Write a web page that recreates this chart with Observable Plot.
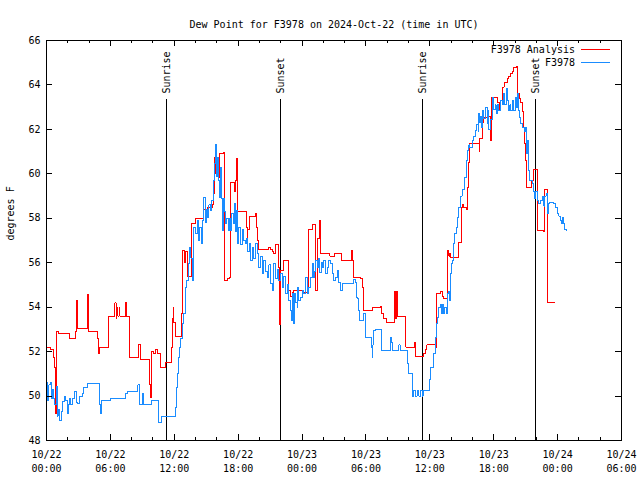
<!DOCTYPE html>
<html><head><meta charset="utf-8">
<script src="https://cdn.jsdelivr.net/npm/d3@7"></script>
<script src="https://cdn.jsdelivr.net/npm/@observablehq/plot@0.6"></script>
<style>body{margin:0;background:#fff}</style>
</head><body><div id="chart"></div>
<script>
const chartTitle = "Dew Point for F3978 on 2024-Oct-22 (time in UTC)";
const yLabel = "degrees F";
const seriesNames = ["F3978 Analysis", "F3978"];
const seriesColors = ["#ff0000", "#1a8cff"];
const xTickHours = [0, 6, 12, 18, 24, 30, 36, 42, 48, 54];
const xTickLabels = ["10/22\n00:00","10/22\n06:00","10/22\n12:00","10/22\n18:00","10/23\n00:00","10/23\n06:00","10/23\n12:00","10/23\n18:00","10/24\n00:00","10/24\n06:00"];
const xMinorHours = d3.range(0, 55, 2);
const yTicks = [48, 50, 52, 54, 56, 58, 60, 62, 64, 66];
const sunHours = [11.27, 21.98, 35.31, 45.95];
const sunLabels = ["Sunrise", "Sunset", "Sunrise", "Sunset"];

// [hours since 10/22 00:00 UTC, dew point F]
const analysisSeries = [[0.07,52.2],[0.38,52.1],[0.63,51.75],[0.75,51.3],[0.85,50.7],[0.89,49.2],[0.94,52.9],[1.16,52.8],[2.09,52.8],[2.16,52.6],[2.66,52.6],[2.72,52.9],[2.82,54.3],[2.91,53.05],[3.76,53.05],[3.82,54.57],[3.90,53.8],[3.97,52.9],[4.76,52.9],[4.82,52.6],[4.88,51.9],[4.98,52.2],[5.70,52.2],[5.79,53.6],[6.39,53.6],[6.43,54.2],[6.53,53.5],[6.62,54.0],[6.71,53.6],[6.81,54.0],[6.90,53.6],[7.33,53.6],[7.42,54.2],[7.51,53.6],[7.73,53.6],[7.80,51.75],[8.52,51.75],[8.64,52.3],[8.73,52.3],[8.83,51.65],[9.58,51.65],[9.70,50.5],[9.77,49.95],[9.86,52.0],[10.05,51.9],[10.28,52.1],[10.42,51.9],[10.71,51.3],[11.13,51.3],[11.18,51.5],[11.65,51.5],[11.74,52.2],[11.80,53.5],[11.90,54.0],[11.96,53.3],[12.11,52.7],[12.58,52.7],[12.68,53.7],[12.74,55.5],[12.80,56.55],[12.96,56.0],[13.05,56.5],[13.21,55.4],[13.52,55.4],[13.62,57.75],[13.99,57.97],[14.30,58.0],[14.62,58.0],[14.74,58.4],[15.09,58.5],[15.56,58.6],[15.66,59.1],[15.78,60.75],[15.87,60.0],[16.03,60.75],[16.18,59.85],[16.28,60.9],[16.65,60.95],[16.72,55.2],[16.97,55.3],[17.21,55.35],[17.28,59.6],[17.59,59.6],[17.66,59.2],[17.75,59.7],[17.84,60.7],[17.91,58.3],[18.69,58.3],[18.78,57.6],[18.85,56.8],[18.92,57.5],[19.09,58.1],[19.63,58.2],[19.72,57.6],[19.79,57.0],[19.94,56.6],[20.57,56.6],[20.88,56.7],[21.04,56.6],[21.20,56.5],[21.35,56.4],[21.51,56.8],[21.74,56.8],[21.82,55.8],[21.88,53.2],[21.95,55.65],[22.23,56.1],[22.61,56.1],[22.70,55.7],[22.76,54.75],[22.92,54.5],[23.07,54.65],[23.23,54.75],[24.01,54.75],[24.17,54.65],[24.48,54.75],[24.65,57.5],[24.95,57.7],[25.20,57.7],[25.26,54.75],[25.42,57.1],[25.55,57.1],[25.67,57.9],[25.73,56.4],[26.51,56.4],[26.61,56.3],[26.98,56.3],[27.08,56.4],[27.61,56.4],[27.70,56.1],[28.55,56.1],[28.62,56.55],[28.71,56.1],[28.80,55.35],[29.49,55.3],[29.65,54.9],[29.74,53.85],[30.43,53.85],[30.59,54.0],[31.37,54.05],[31.46,53.7],[31.68,53.5],[31.93,53.3],[32.62,53.3],[32.68,54.7],[32.78,53.5],[32.87,54.7],[32.94,53.6],[33.71,53.6],[33.76,52.2],[34.49,52.2],[34.56,52.4],[34.66,51.8],[35.28,51.8],[35.43,51.9],[35.59,52.1],[35.73,52.3],[36.53,52.3],[36.60,52.2],[36.66,54.6],[36.84,54.6],[37.00,54.7],[37.16,54.5],[37.31,54.4],[37.57,54.4],[37.63,56.4],[37.69,56.55],[37.78,56.3],[37.85,56.4],[37.94,56.25],[38.57,56.25],[38.72,56.9],[38.88,56.9],[38.95,58.5],[39.04,58.6],[39.16,58.5],[39.44,58.4],[39.51,59.4],[39.66,60.5],[39.75,61.35],[40.52,61.35],[40.62,61.0],[40.69,61.6],[40.85,61.6],[40.97,62.3],[41.07,62.55],[41.54,62.6],[41.70,61.5],[41.79,63.45],[42.33,63.4],[42.40,63.2],[42.57,62.9],[42.68,63.3],[42.80,63.9],[42.97,64.1],[43.27,64.3],[43.42,64.4],[43.58,64.5],[43.74,64.6],[43.89,64.8],[44.14,64.85],[44.20,63.6],[44.45,63.4],[44.52,63.2],[44.67,62.8],[44.77,62.1],[44.89,61.35],[44.98,60.6],[45.08,59.4],[45.45,59.4],[45.55,59.7],[45.76,60.2],[46.05,60.2],[46.08,57.45],[46.70,57.4],[46.77,59.3],[47.02,59.3],[47.05,54.2],[47.75,54.2]];

const stationSeries = [[0.07,50.6],[0.12,49.8],[0.23,50.5],[0.38,50.6],[0.50,49.9],[0.61,50.3],[0.69,49.9],[0.75,49.6],[0.91,50.45],[1.00,49.1],[1.08,49.4],[1.22,48.9],[1.38,49.3],[1.53,49.75],[1.69,50.0],[1.78,49.8],[1.94,49.2],[2.02,49.6],[2.16,49.9],[2.30,49.6],[2.47,49.9],[2.63,50.2],[2.79,49.7],[2.94,49.65],[3.10,50.0],[3.41,50.1],[3.50,50.4],[3.88,50.55],[4.91,50.55],[5.01,49.6],[5.07,49.2],[5.17,49.8],[6.01,49.9],[7.26,49.9],[7.42,50.1],[7.58,50.2],[8.52,50.2],[8.57,50.5],[8.76,49.6],[8.99,50.1],[9.14,49.6],[9.77,49.6],[9.83,49.8],[10.40,49.8],[10.49,49.2],[10.55,48.8],[10.77,49.1],[12.05,49.1],[12.11,49.5],[12.21,50.4],[12.27,51.0],[12.37,51.75],[12.49,52.2],[12.58,52.6],[12.74,53.25],[12.89,53.7],[13.05,54.9],[13.15,55.2],[13.36,55.95],[13.46,56.7],[13.57,56.2],[13.68,55.2],[13.83,57.6],[13.99,57.3],[14.15,57.9],[14.27,57.0],[14.37,57.6],[14.53,56.85],[14.65,57.9],[14.77,58.95],[14.89,57.8],[15.03,58.4],[15.09,58.05],[15.24,58.6],[15.40,58.35],[15.54,58.8],[15.66,59.7],[15.78,60.45],[15.87,61.3],[15.97,59.9],[16.09,60.75],[16.18,59.7],[16.28,58.95],[16.34,60.3],[16.43,58.9],[16.50,57.45],[16.59,58.9],[16.72,58.3],[16.81,57.75],[16.93,58.0],[17.06,57.45],[17.17,58.0],[17.28,57.45],[17.37,58.2],[17.53,57.75],[17.66,58.65],[17.75,57.4],[17.84,58.35],[17.97,56.85],[18.06,57.6],[18.22,56.8],[18.38,57.5],[18.53,57.0],[18.69,56.85],[18.78,57.1],[18.91,56.5],[19.09,56.85],[19.16,56.1],[19.32,56.7],[19.47,56.2],[19.63,56.85],[19.79,56.4],[19.94,55.8],[20.10,56.3],[20.26,55.5],[20.41,56.1],[20.57,55.6],[20.73,55.35],[20.88,55.9],[21.04,55.05],[21.20,54.75],[21.35,55.95],[21.51,55.3],[21.67,55.7],[21.82,55.2],[21.98,55.5],[22.14,54.9],[22.29,55.4],[22.45,54.6],[22.61,55.0],[22.76,54.3],[22.92,53.85],[22.98,53.4],[23.07,54.6],[23.17,53.25],[23.29,54.6],[23.38,54.2],[23.54,54.0],[23.60,54.9],[23.69,54.3],[23.85,54.45],[24.01,54.75],[24.16,54.6],[24.32,55.35],[24.48,54.6],[24.63,54.9],[24.79,55.35],[24.95,55.95],[25.05,55.35],[25.17,55.6],[25.26,56.1],[25.42,55.8],[25.57,56.2],[25.67,55.55],[25.80,56.0],[25.89,55.8],[26.04,56.1],[26.20,55.5],[26.36,55.8],[26.51,56.1],[26.67,55.95],[26.83,55.5],[26.98,55.2],[27.14,55.35],[27.30,55.65],[27.45,55.1],[27.61,54.75],[27.77,55.05],[28.71,55.05],[28.80,55.25],[29.02,55.1],[29.11,54.45],[29.21,54.4],[29.33,53.85],[29.42,53.4],[29.65,53.4],[29.80,53.7],[29.96,52.65],[30.43,52.65],[30.49,52.2],[30.59,51.75],[30.66,52.3],[30.74,52.95],[30.90,53.0],[31.37,53.0],[31.43,52.05],[32.15,52.05],[32.31,52.65],[32.40,52.4],[32.47,52.05],[32.94,52.05],[33.09,52.3],[33.20,52.05],[33.71,52.05],[33.87,51.45],[33.97,51.0],[34.19,51.0],[34.34,50.0],[34.49,50.25],[34.65,50.0],[34.81,50.25],[34.97,50.0],[35.12,50.25],[35.28,50.0],[35.38,50.25],[36.00,50.75],[36.06,51.3],[36.32,51.3],[36.37,51.9],[36.53,52.65],[36.63,53.25],[36.69,53.55],[36.84,54.0],[37.00,54.1],[37.10,53.7],[37.19,54.1],[37.31,53.7],[37.41,54.0],[37.57,53.7],[37.69,54.6],[37.78,54.7],[37.88,54.3],[37.94,55.5],[38.04,55.95],[38.13,56.1],[38.25,56.85],[38.35,57.3],[38.50,57.6],[38.63,58.05],[38.72,58.5],[38.88,59.0],[39.04,59.3],[39.19,59.3],[39.28,59.85],[39.42,60.6],[39.51,61.05],[39.66,61.3],[39.75,61.2],[39.98,61.5],[40.13,61.7],[40.29,61.95],[40.38,62.2],[40.48,62.2],[40.54,61.9],[40.60,62.7],[40.69,62.3],[40.76,62.6],[40.85,62.1],[40.97,62.85],[41.07,62.5],[41.23,63.0],[41.39,62.25],[41.46,62.85],[41.54,62.0],[41.70,62.45],[41.86,63.45],[42.01,62.9],[42.17,63.1],[42.23,62.7],[42.33,63.1],[42.48,62.85],[42.64,63.3],[42.80,63.1],[42.95,63.6],[43.04,63.1],[43.17,63.85],[43.27,63.3],[43.42,62.85],[43.51,63.1],[43.58,62.85],[43.74,63.3],[43.89,62.85],[44.05,63.45],[44.14,63.0],[44.20,63.6],[44.30,62.85],[44.42,62.55],[44.52,62.25],[44.67,62.1],[44.83,62.1],[44.92,61.9],[44.98,62.1],[45.08,60.9],[45.14,61.5],[45.29,60.15],[45.39,59.7],[45.61,59.55],[45.76,59.2],[45.86,58.9],[45.92,59.2],[46.08,58.8],[46.23,58.65],[46.39,58.8],[46.55,59.0],[46.70,58.55],[46.80,59.0],[46.93,59.1],[47.02,58.65],[47.05,58.2],[47.14,58.65],[47.24,58.7],[47.47,58.7],[47.64,58.65],[47.80,58.5],[47.96,58.2],[48.11,58.1],[48.27,57.9],[48.36,57.75],[48.49,58.05],[48.58,57.75],[48.68,57.5],[48.79,57.45]];

const toRows = (pairs) => pairs.map(([h, v]) => ({h, v}));
const analysisRows = toRows(analysisSeries);
const stationRows = toRows(stationSeries);
const sunRows = sunHours.map((h, i) => ({h, label: sunLabels[i]}));

const font = "DejaVu Sans Mono";
const svg = Plot.plot({
  width: 640, height: 480,
  marginLeft: 46, marginRight: 19, marginTop: 40, marginBottom: 40,
  style: {fontFamily: font, fontSize: "10px", background: "white", color: "black", overflow: "visible"},
  x: {type: "linear", domain: [0, 54]},
  y: {type: "linear", domain: [48, 66]},
  marks: [
    Plot.ruleX(sunRows, {x: "h", insetTop: 59, stroke: "black", strokeWidth: 1, shapeRendering: "crispEdges"}),
    Plot.text(sunRows, {x: "h", text: "label", frameAnchor: "top", dy: 53, rotate: -90, textAnchor: "start", lineAnchor: "middle", fontSize: 10}),
    Plot.line(analysisRows, {x: "h", y: "v", curve: "step-after", stroke: seriesColors[0], strokeWidth: 1, shapeRendering: "crispEdges"}),
    Plot.line(stationRows, {x: "h", y: "v", curve: "step-after", stroke: seriesColors[1], strokeWidth: 1, shapeRendering: "crispEdges"}),
    // inward ticks (gnuplot style), mirrored
    Plot.ruleX(xTickHours, {x: d => d, insetTop: 394, stroke: "black", shapeRendering: "crispEdges"}),
    Plot.ruleX(xTickHours, {x: d => d, insetBottom: 394, stroke: "black", shapeRendering: "crispEdges"}),
    Plot.ruleX(xMinorHours, {x: d => d, insetTop: 397, stroke: "black", shapeRendering: "crispEdges"}),
    Plot.ruleX(xMinorHours, {x: d => d, insetBottom: 397, stroke: "black", shapeRendering: "crispEdges"}),
    Plot.ruleY(yTicks, {y: d => d, insetRight: 569, stroke: "black", shapeRendering: "crispEdges"}),
    Plot.ruleY(yTicks, {y: d => d, insetLeft: 569, stroke: "black", shapeRendering: "crispEdges"}),
    Plot.axisX(xTickHours, {tickSize: 0, tickPadding: 7, tickFormat: d => xTickLabels[xTickHours.indexOf(d)], lineHeight: 1.45, label: null, fontSize: 10}),
    Plot.axisY(yTicks, {tickSize: 0, tickPadding: 6, label: null, fontSize: 10}),
    Plot.text([yLabel], {frameAnchor: "left", dx: -36, rotate: -90, fontSize: 10}),
    Plot.text([chartTitle], {frameAnchor: "top", dy: -20, fontSize: 10}),
    Plot.frame({stroke: "black", shapeRendering: "crispEdges"})
  ]
});

// legend (top-right, inside the plot)
const g = d3.select(svg).append("g").attr("font-family", font).attr("font-size", 10);
seriesNames.forEach((name, i) => {
  const y = 49.5 + i * 13;
  g.append("text").attr("x", 575).attr("y", y).attr("text-anchor", "end").attr("dominant-baseline", "middle").attr("fill", "black").text(name);
  g.append("line").attr("x1", 581).attr("x2", 610).attr("y1", y).attr("y2", y).attr("stroke", seriesColors[i]).attr("stroke-width", 1).attr("shape-rendering", "crispEdges");
});

document.getElementById("chart").appendChild(svg);
</script>
</body></html>
